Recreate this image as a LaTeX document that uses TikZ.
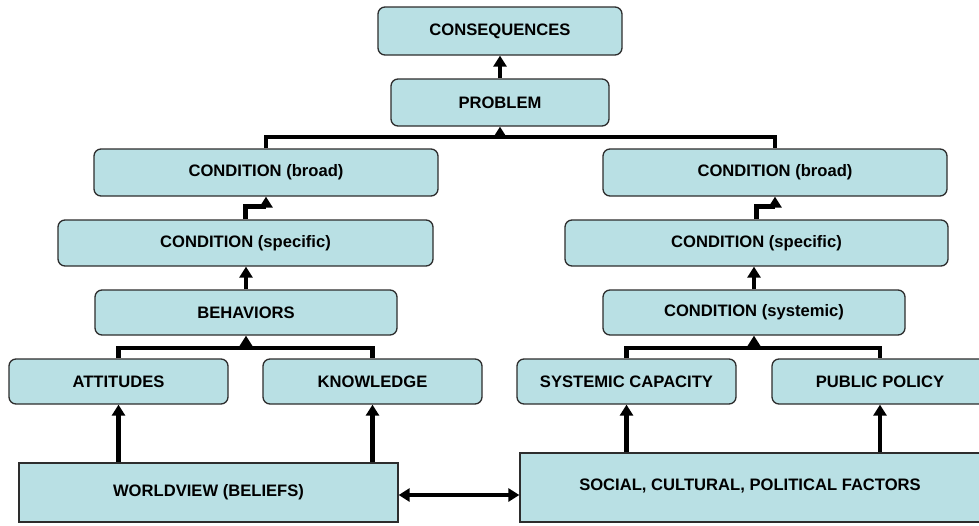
\documentclass[tikz,border=0pt]{standalone}
\usepackage{fontspec}
\setmainfont{Liberation Sans}
\usetikzlibrary{arrows.meta}
\definecolor{boxfill}{RGB}{185,224,228}
\definecolor{boxline}{RGB}{45,45,45}
\tikzset{
  base/.style={fill=boxfill, draw=boxline, line width=1.3pt, inner sep=0pt,
    font=\fontsize{16.6}{19}\selectfont\bfseries, text=black},
  rbox/.style={base, rounded corners=7pt},
  sbox/.style={base},
  wire/.style={line width=4.5pt, draw=black},
  arr/.style={wire, -{Triangle[width=13pt,length=11pt]}},
  darr/.style={wire, {Triangle[width=13pt,length=11pt]}-{Triangle[width=13pt,length=11pt]}},
}
\begin{document}
\begin{tikzpicture}[x=1pt,y=-1pt]
\useasboundingbox (0,0) rectangle (979,525);
\clip (0,0) rectangle (979,525);
% boxes
\node[rbox, minimum width=244, minimum height=48] (cons) at (500,31) {CONSEQUENCES};
\node[rbox, minimum width=218, minimum height=47] (prob) at (500,102.5) {PROBLEM};
\node[rbox, minimum width=344, minimum height=47] (cbL) at (266,172.5) {CONDITION (broad)};
\node[rbox, minimum width=344, minimum height=47] (cbR) at (775,172.5) {CONDITION (broad)};
\node[rbox, minimum width=375, minimum height=46] (csL) at (245.5,243) {CONDITION (specific)};
\node[rbox, minimum width=383, minimum height=46] (csR) at (756.5,243) {CONDITION (specific)};
\node[rbox, minimum width=302, minimum height=45] (beh) at (246,312.5) {BEHAVIORS};
\node[rbox, minimum width=302, minimum height=45] (sys) at (754,312.5) {CONDITION (systemic)};
\node[rbox, minimum width=219, minimum height=45] (att) at (118.5,381.5) {ATTITUDES};
\node[rbox, minimum width=219, minimum height=45] (knw) at (372.5,381.5) {KNOWLEDGE};
\node[rbox, minimum width=219, minimum height=45] (scap) at (626.5,381.5) {SYSTEMIC CAPACITY};
\node[rbox, minimum width=216, minimum height=45] (ppol) at (880,381.5) {PUBLIC POLICY};
\node[sbox, minimum width=379, minimum height=59] (wv) at (208.5,492.5) {WORLDVIEW (BELIEFS)};
\node[sbox, minimum width=460, minimum height=69] (soc) at (750,487.5) {\raisebox{5.5pt}{SOCIAL, CULTURAL, POLITICAL FACTORS}};
% helper coordinates
\coordinate (busT) at (0,137);
\coordinate (busB) at (0,348);
\coordinate (dA) at (0,495);
% connectors
\draw[arr] (prob.north) -- (cons.south);
\draw[wire] (cbL.north) -- (cbL.north |- busT) -- (cbR.north |- busT) -- (cbR.north);
\draw[arr] (prob.south |- busT) -- (prob.south);
\draw[arr] (csL.north) -- ++(0,-13) -| (cbL.south);
\draw[arr] (csR.north) -- ++(0,-13) -| (cbR.south);
\draw[arr] (beh.north) -- (beh.north |- csL.south);
\draw[arr] (sys.north) -- (sys.north |- csR.south);
\draw[wire] (att.north) -- (att.north |- busB) -- (knw.north |- busB) -- (knw.north);
\draw[arr] (beh.south |- busB) -- (beh.south);
\draw[wire] (scap.north) -- (scap.north |- busB) -- (ppol.north |- busB) -- (ppol.north);
\draw[arr] (sys.south |- busB) -- (sys.south);
\draw[arr] (att.south |- wv.north) -- (att.south);
\draw[arr] (knw.south |- wv.north) -- (knw.south);
\draw[arr] (scap.south |- soc.north) -- (scap.south);
\draw[arr] (ppol.south |- soc.north) -- (ppol.south);
\draw[darr] (wv.east |- dA) -- (soc.west |- dA);
\end{tikzpicture}
\end{document}
